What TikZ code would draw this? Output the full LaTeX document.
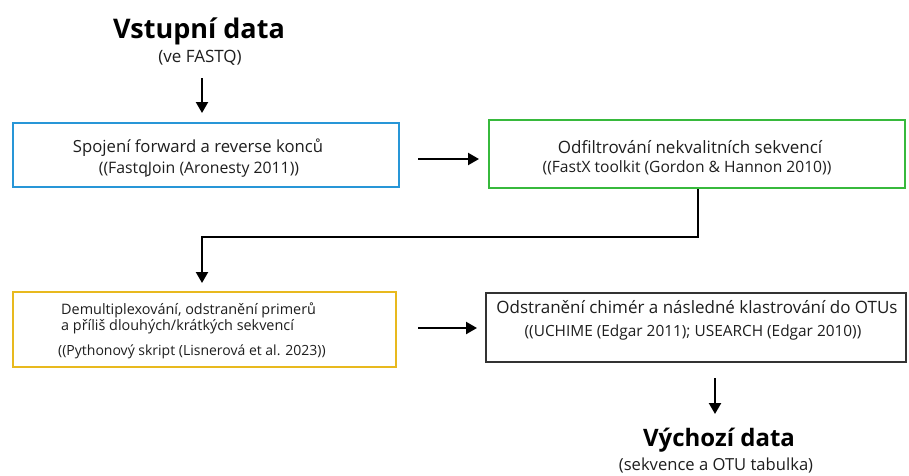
\documentclass[tikz,border=0pt]{standalone}
\usepackage{fontspec}
\setmainfont{Open Sans}
\usetikzlibrary{arrows.meta}
\definecolor{cblue}{RGB}{40,150,215}
\definecolor{cgreen}{RGB}{55,185,60}
\definecolor{cyell}{RGB}{232,185,30}
\definecolor{ctext}{RGB}{30,30,30}
\tikzset{
  box/.style={draw, line width=2pt, minimum width=#1, inner sep=0pt},
  arr/.style={line width=2.2pt, -{Triangle[length=11pt,width=12pt]}},
  txt/.style={text=ctext, inner sep=0pt, anchor=center},
}
\begin{document}
\begin{tikzpicture}[x=1pt,y=-1pt]
\useasboundingbox[fill=white] (0,0) rectangle (909,475);
% titles
\node[inner sep=0pt, font=\bfseries\fontsize{27}{30}\selectfont] (t1) at (199,31) {Vstupní data};
\node[inner sep=0pt, text=ctext, font=\fontsize{17}{20}\selectfont] (s1) at (200,58) {(ve FASTQ)};
% boxes
\node[box=386pt, minimum height=64pt, draw=cblue] (b1) at (206,155) {};
\node[box=416pt, minimum height=68pt, draw=cgreen] (b2) at (697,154) {};
\node[box=383pt, minimum height=75pt, draw=cyell] (b3) at (204.5,329.5) {};
\node[box=420pt, minimum height=69pt, draw=black!80, line width=1.6pt] (b4) at (696,327.5) {};
% box texts
\node[txt, font=\fontsize{16.7}{19}\selectfont] (b1a) at (198,148) {Spojení forward a reverse konců};
\node[txt, font=\fontsize{15.8}{18}\selectfont] (b1b) at (199,170) {((FastqJoin (Aronesty 2011))};
\node[txt, font=\fontsize{17}{19}\selectfont] (b2a) at (690,147) {Odfiltrování nekvalitních sekvencí};
\node[txt, font=\fontsize{15.6}{18}\selectfont] (b2b) at (687,168) {((FastX toolkit (Gordon \& Hannon 2010))};
\node[txt, anchor=west, font=\fontsize{14.4}{17}\selectfont] (b3a) at (61,310) {Demultiplexování, odstranění primerů};
\node[txt, anchor=west, font=\fontsize{14.4}{17}\selectfont] (b3b) at (61,327) {a příliš dlouhých/krátkých sekvencí};
\node[txt, anchor=west, font=\fontsize{14}{16}\selectfont] (b3c) at (58,352) {((Pythonový skript (Lisnerová et al. 2023))};
\node[txt, font=\fontsize{17}{19}\selectfont] (b4a) at (697,307) {Odstranění chimér a následné klastrování do OTUs};
\node[txt, font=\fontsize{15.4}{18}\selectfont] (b4b) at (693,332) {((UCHIME (Edgar 2011); USEARCH (Edgar 2010))};
% output titles
\node[inner sep=0pt, font=\bfseries\fontsize{24}{28}\selectfont] (t2) at (719,440) {Výchozí data};
\node[inner sep=0pt, text=ctext, font=\fontsize{16.6}{19}\selectfont] (s2) at (716,465) {(sekvence a OTU tabulka)};
% connectors
\coordinate (a1s) at (202,78);
\coordinate (a1e) at (202,113);
\coordinate (a2s) at (418,159);
\coordinate (a2e) at (479,159);
\coordinate (a3s) at (418,328);
\coordinate (a3e) at (477,328);
\coordinate (a4s) at (715,378);
\coordinate (a4e) at (715,414);
\coordinate (c1) at (698,237);
\coordinate (c2) at (202,237);
\coordinate (c3) at (202,283);
\draw[arr] (a1s) -- (a1e);
\draw[arr] (a2s) -- (a2e);
\draw[arr] (b2.south -| c1) -- (c1) -- (c2) -- (c3);
\draw[arr] (a3s) -- (a3e);
\draw[arr] (a4s) -- (a4e);
\end{tikzpicture}
\end{document}
